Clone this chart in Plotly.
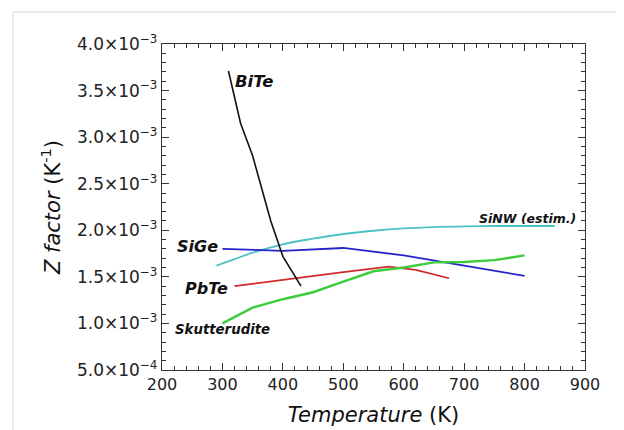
import plotly.graph_objects as go

# Data (temperature in K, Z in 1/K)
bite_T = [310, 330, 350, 380, 400, 430]
bite_Z = [3.71e-3, 3.15e-3, 2.80e-3, 2.10e-3, 1.72e-3, 1.40e-3]

sinw_T = [290, 320, 350, 400, 450, 500, 550, 600, 650, 700, 750, 800, 850]
sinw_Z = [1.62e-3, 1.69e-3, 1.76e-3, 1.85e-3, 1.91e-3, 1.96e-3, 1.995e-3,
          2.02e-3, 2.035e-3, 2.043e-3, 2.046e-3, 2.046e-3, 2.046e-3]

sige_T = [300, 400, 500, 600, 700, 800]
sige_Z = [1.80e-3, 1.78e-3, 1.81e-3, 1.73e-3, 1.62e-3, 1.51e-3]

pbte_T = [320, 400, 500, 575, 620, 675]
pbte_Z = [1.40e-3, 1.47e-3, 1.55e-3, 1.61e-3, 1.575e-3, 1.485e-3]

skut_T = [300, 350, 400, 450, 500, 550, 600, 650, 700, 750, 800]
skut_Z = [1.00e-3, 1.17e-3, 1.26e-3, 1.335e-3, 1.45e-3, 1.56e-3, 1.60e-3,
          1.655e-3, 1.66e-3, 1.68e-3, 1.73e-3]

x_ticks = [200, 300, 400, 500, 600, 700, 800, 900]
y_ticks = [0.5e-3, 1.0e-3, 1.5e-3, 2.0e-3, 2.5e-3, 3.0e-3, 3.5e-3, 4.0e-3]
y_ticktext = ["5.0×10<sup>−4</sup>", "1.0×10<sup>−3</sup>", "1.5×10<sup>−3</sup>",
              "2.0×10<sup>−3</sup>", "2.5×10<sup>−3</sup>", "3.0×10<sup>−3</sup>",
              "3.5×10<sup>−3</sup>", "4.0×10<sup>−3</sup>"]

FONT = "DejaVu Sans"

fig = go.Figure()
fig.add_trace(go.Scatter(x=sinw_T, y=sinw_Z, mode="lines", line=dict(color="#4cc2c4", width=1.8, shape="spline")))
fig.add_trace(go.Scatter(x=sige_T, y=sige_Z, mode="lines", line=dict(color="#2424cc", width=1.8)))
fig.add_trace(go.Scatter(x=pbte_T, y=pbte_Z, mode="lines", line=dict(color="#d42a2a", width=1.8)))
fig.add_trace(go.Scatter(x=skut_T, y=skut_Z, mode="lines", line=dict(color="#3ccc3c", width=2.4)))
fig.add_trace(go.Scatter(x=bite_T, y=bite_Z, mode="lines", line=dict(color="#111111", width=1.6)))

def lab(text, x, y, anchor, size):
    fig.add_annotation(x=x, y=y, text="<b><i>%s</i></b>" % text, showarrow=False,
                       xanchor=anchor, yanchor="middle",
                       font=dict(family=FONT, size=size, color="#111111"))

lab("BiTe", 317, 3.595e-3, "left", 16.5)
lab("SiGe", 296, 1.824e-3, "right", 16)
lab("PbTe", 312, 1.38e-3, "right", 16)
lab("Skutterudite", 218, 0.93e-3, "left", 13.3)
lab("SiNW (estim.)", 888, 2.13e-3, "right", 12.5)

# faint page border
fig.add_shape(type="line", xref="paper", yref="paper", x0=-0.352, x1=1.2, y0=1.098, y1=1.098,
              line=dict(color="#d8d8d8", width=1))
fig.add_shape(type="line", xref="paper", yref="paper", x0=-0.352, x1=-0.352, y0=-0.3, y1=1.098,
              line=dict(color="#d8d8d8", width=1))

axis_common = dict(showgrid=False, zeroline=False, showline=True, linecolor="#333333",
                   linewidth=1.3, mirror="allticks", ticks="inside", ticklen=7,
                   tickcolor="#333333", tickwidth=1)

fig.update_xaxes(range=[200, 900], tickvals=x_ticks,
                 tickfont=dict(family=FONT, size=16, color="#222222"),
                 minor=dict(dtick=20, ticklen=3.5, ticks="inside", tickcolor="#333333"),
                 title=dict(text="<i>Temperature</i> (K)", font=dict(family=FONT, size=21, color="#111111"),
                            standoff=13),
                 **axis_common)
fig.update_yaxes(range=[0.5e-3, 4.0e-3], tickvals=y_ticks, ticktext=y_ticktext,
                 tickfont=dict(family=FONT, size=17, color="#222222"),
                 minor=dict(dtick=0.1e-3, tick0=0, ticklen=3.5, ticks="inside", tickcolor="#333333"),
                 title=dict(text="<i>Z factor</i> (K<sup>-1</sup>)", font=dict(family=FONT, size=21, color="#111111"),
                            standoff=10),
                 **axis_common)

fig.update_layout(width=616, height=422, showlegend=False,
                  margin=dict(l=154, r=39, t=36, b=60, autoexpand=False),
                  plot_bgcolor="white", paper_bgcolor="white")

fig.write_html("out.html")
